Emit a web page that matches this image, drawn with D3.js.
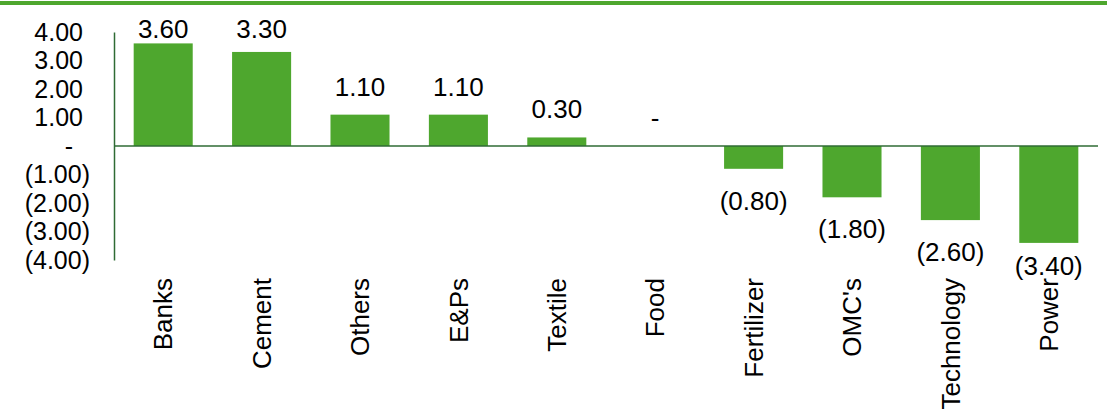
<!DOCTYPE html>
<html>
<head>
<meta charset="utf-8">
<script src="https://cdn.jsdelivr.net/npm/d3@7"></script>
<style>
  body { margin: 0; background: #fff; }
  svg { display: block; font-family: "Liberation Sans", Arial, sans-serif; }
</style>
</head>
<body>
<div class="chart"></div>
<script>
// sectors and their values
const sectors = ["Banks", "Cement", "Others", "E&Ps", "Textile", "Food", "Fertilizer", "OMC's", "Technology", "Power"]
const values = [3.60, 3.30, 1.10, 1.10, 0.30, 0, -0.80, -1.80, -2.60, -3.40]
const yTicks = [4, 3, 2, 1, 0, -1, -2, -3, -4]

const svgWidth = 1107, svgHeight = 409
const green = "#4ea72e"
const axisColor = "#2f6b34"

// accounting style number format
const fmt = v => v === 0 ? "-" : (v < 0 ? `(${Math.abs(v).toFixed(2)})` : v.toFixed(2))

const svg = d3.select(".chart").append("svg")
    .attr("width", svgWidth)
    .attr("height", svgHeight)

// top rule
svg.append("line")
    .attr("x1", 0).attr("x2", svgWidth)
    .attr("y1", 3).attr("y2", 3)
    .attr("stroke", green)
    .attr("stroke-width", 4)

//SCALES
const x = d3.scaleBand()
    .domain(sectors)
    .range([114, 1098])
    .paddingInner(0.4)
    .paddingOuter(0.2)

const y = d3.scaleLinear()
    .domain([-4, 4])
    .range([260, 32])

//Y AXIS
const yAxis = svg.append("g")
    .attr("transform", "translate(114,0)")
    .call(d3.axisLeft(y).tickValues(yTicks).tickFormat(fmt).tickSize(0).tickSizeOuter(0))

yAxis.select(".domain").attr("stroke", axisColor).attr("stroke-width", 1.5)
yAxis.selectAll("text")
    .attr("font-size", 25)
    .attr("fill", "#000")
    .attr("font-family", "Liberation Sans, Arial, sans-serif")
    .attr("text-anchor", d => d === 0 ? "middle" : "end")
    .attr("x", d => d > 0 ? -31 : (d < 0 ? -24 : -45))

//BARS
svg.append("g")
    .selectAll("rect")
    .data(values)
    .join("rect")
    .attr("x", (d, i) => x(sectors[i]))
    .attr("width", x.bandwidth())
    .attr("y", d => y(Math.max(0, d)))
    .attr("height", d => Math.abs(y(d) - y(0)))
    .attr("fill", green)

// zero line
svg.append("line")
    .attr("x1", 114).attr("x2", 1098)
    .attr("y1", y(0)).attr("y2", y(0))
    .attr("stroke", axisColor)
    .attr("stroke-width", 1.5)

//VALUE LABELS
svg.append("g")
    .selectAll("text")
    .data(values)
    .join("text")
    .attr("x", (d, i) => x(sectors[i]) + x.bandwidth() / 2)
    .attr("y", d => d >= 0 ? Math.max(y(d) - 19, 38) : Math.min(y(d) + 41, 275))
    .attr("text-anchor", "middle")
    .attr("font-size", 26)
    .attr("fill", "#000")
    .text(fmt)

//CATEGORY LABELS
svg.append("g")
    .selectAll("text")
    .data(sectors)
    .join("text")
    .attr("transform", d => `translate(${x(d) + x.bandwidth() / 2},278) rotate(-90)`)
    .attr("text-anchor", "end")
    .attr("dy", "0.35em")
    .attr("font-size", 26)
    .attr("fill", "#000")
    .text(d => d)
</script>
</body>
</html>
